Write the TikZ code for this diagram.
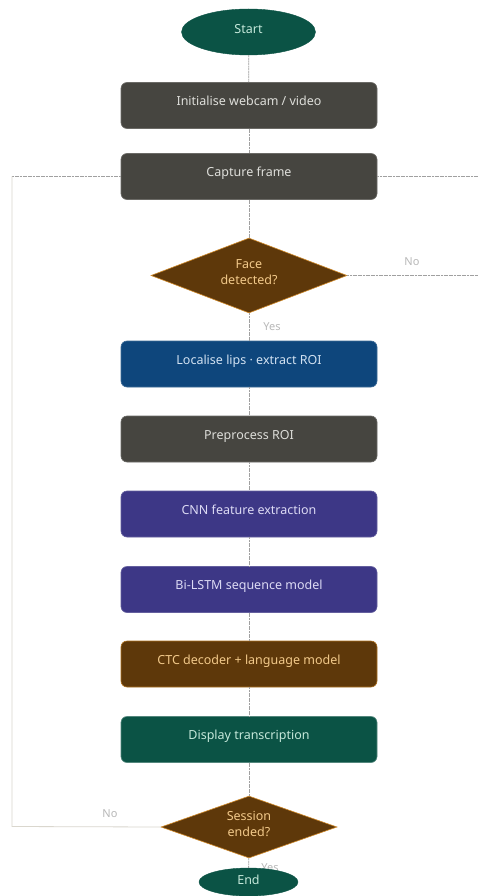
\documentclass[tikz,border=0pt]{standalone}
\usepackage{fontspec}
\setmainfont{Noto Sans}
\usetikzlibrary{shapes.geometric}
\definecolor{tealf}{HTML}{0B5345}
\definecolor{tealt}{HTML}{C5E8DA}
\definecolor{grayf}{HTML}{464540}
\definecolor{grayt}{HTML}{DEDEDA}
\definecolor{bluef}{HTML}{0E467C}
\definecolor{bluet}{HTML}{D2E2F2}
\definecolor{purf}{HTML}{3D3786}
\definecolor{purt}{HTML}{DCDAF4}
\definecolor{brownf}{HTML}{5E380A}
\definecolor{brownd}{HTML}{D08A2A}
\definecolor{brownt}{HTML}{F2C98A}
\definecolor{linec}{HTML}{A0A0A0}
\definecolor{lightl}{HTML}{DAD7CE}
\definecolor{labc}{HTML}{B8B8B8}
\tikzset{
  base/.style={font=\fontsize{12.5}{16}\selectfont, align=center, inner sep=1pt},
  box/.style={base, rectangle, rounded corners=6pt, minimum width=256pt, minimum height=46pt, line width=0.6pt, text height=9pt, text depth=9pt},
  graybox/.style={box, fill=grayf, draw=grayf!80!white, text=grayt},
  bluebox/.style={box, fill=bluef, draw=bluef!80!white, text=bluet},
  purbox/.style={box, fill=purf, draw=purf!80!white, text=purt},
  brownbox/.style={box, fill=brownf, draw=brownd!70!brownf, text=brownt},
  tealbox/.style={box, fill=tealf, draw=tealf!70!white, text=tealt},
  term/.style={base, ellipse, fill=tealf, draw=tealf, text=tealt, text height=9pt, text depth=5pt},
  decision/.style={base, diamond, fill=brownf, draw=brownd, line width=0.6pt, text=brownt, aspect=2.6, inner sep=0pt},
  conn/.style={draw=linec, line width=0.8pt, dash pattern=on 2pt off 0.6pt},
  loopline/.style={draw=lightl, line width=0.8pt},
  lab/.style={font=\fontsize{11}{13}\selectfont, text=labc, inner sep=0pt}
}
\begin{document}
\begin{tikzpicture}[x=1pt,y=-1pt]
\useasboundingbox (0,0) rectangle (478,896);
\fill[white] (0,0) rectangle (478,896);
% nodes
\node[term, minimum width=134pt, minimum height=46pt] (start) at (248.5,32) {Start};
\node[graybox] (init) at (249,105.5) {Initialise webcam / video};
\node[graybox] (cap) at (249,176.5) {Capture frame};
\node[decision, minimum width=196pt, minimum height=75pt] (face) at (249,275.5) {Face\\detected?\\[-9pt]\mbox{}};
\node[bluebox] (loc) at (249,364) {Localise lips · extract ROI};
\node[graybox] (pre) at (249,439) {Preprocess ROI};
\node[purbox] (cnn) at (249,514) {CNN feature extraction};
\node[purbox] (lstm) at (249,589.5) {Bi-LSTM sequence model};
\node[brownbox] (ctc) at (249,664) {CTC decoder + language model};
\node[tealbox] (disp) at (249,739.5) {Display transcription};
\node[decision, minimum width=176pt, minimum height=62pt, aspect=2.8] (sess) at (249,827) {Session\\ended?\\[-9pt]\mbox{}};
\coordinate (rtop) at (478,176.5);
\coordinate (rface) at (478,275.5);
\coordinate (ltop) at (12,176.5);
\coordinate (lbot) at (12,826.5);
% connectors
\draw[conn] (start) -- (init);
\draw[conn] (init) -- (cap);
\draw[conn] (cap) -- (face);
\draw[conn] (face) -- (loc);
\draw[conn] (loc) -- (pre);
\draw[conn] (pre) -- (cnn);
\draw[conn] (cnn) -- (lstm);
\draw[conn] (lstm) -- (ctc);
\draw[conn] (ctc) -- (disp);
\draw[conn] (disp) -- (sess);
\draw[conn] (cap.east) -- (rtop);
\draw[conn] (face.east) -- (rface);
\draw[conn] (cap.west) -- (ltop);
\draw[loopline] (ltop) -- (lbot) -- (sess.west);
\node[lab] (noface) at (412,262) {No};
\node[lab] (yesface) at (272,327) {Yes};
\node[lab] (nosess) at (110,813.5) {No};
\node[lab] (yessess) at (270,868) {Yes};
\node[term, minimum width=99pt, minimum height=28pt] (end) at (248.5,882) {End};
\draw[conn] (sess) -- (end);
\end{tikzpicture}
\end{document}
